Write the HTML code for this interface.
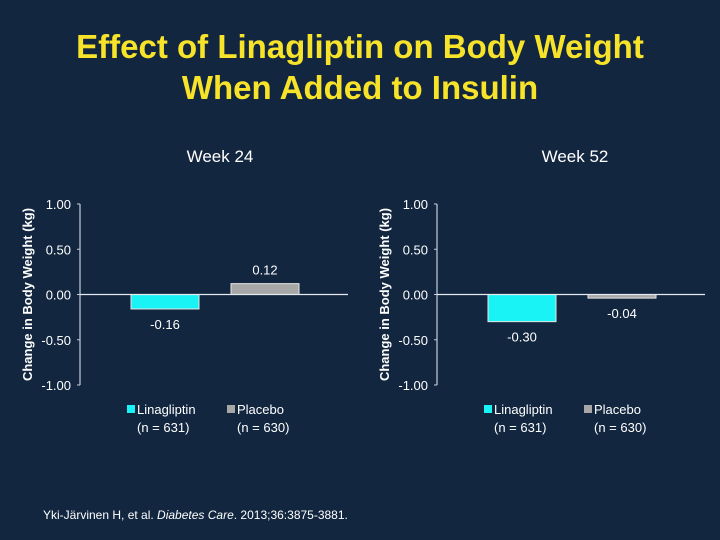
<!DOCTYPE html>
<html><head><meta charset="utf-8"><style>
body{margin:0;width:720px;height:540px;background:#12263f;overflow:hidden;font-family:"Liberation Sans",sans-serif}
</style></head><body>
<svg width="720" height="540" style="position:absolute;left:0;top:0">
<text x="360" y="58" text-anchor="middle" fill="#f7e32a" font-size="33" font-weight="bold">Effect of Linagliptin on Body Weight</text>
<text x="360" y="99" text-anchor="middle" fill="#f7e32a" font-size="33" font-weight="bold">When Added to Insulin</text>
<text x="220" y="162" text-anchor="middle" fill="#fff" font-size="17">Week 24</text>
<text x="575" y="162" text-anchor="middle" fill="#fff" font-size="17">Week 52</text>
<g id="charts"></g>
<text x="43" y="519" fill="#fff" font-size="12">Yki-Järvinen H, et al. <tspan font-style="italic">Diabetes Care</tspan>. 2013;36:3875-3881.</text>
</svg>
<script>
const panels=["Week 24","Week 52"];
const linaValues=[-0.16,-0.30];
const placeboValues=[0.12,-0.04];
const tickValues=[1,0.5,0,-0.5,-1];
const tickLabels=["1.00","0.50","0.00","-0.50","-1.00"];
const seriesNames=["Linagliptin","Placebo"];
const seriesN=["(n = 631)","(n = 630)"];
const NS="http://www.w3.org/2000/svg";
const g=document.getElementById('charts');
function mk(t,a,txt){const e=document.createElementNS(NS,t);for(const k in a)e.setAttribute(k,a[k]);if(txt!=null)e.textContent=txt;g.appendChild(e);return e;}
const y=v=>294.5-v*90.5;
panels.forEach((p,i)=>{
 const ox=i*357, ax=80+ox;
 let e=mk('line',{x1:ax,x2:ax,y1:y(1),y2:y(-1),stroke:'#c8cdd6','stroke-width':1.2});
 
 
 tickValues.forEach((v,j)=>{
  let t=mk('line',{x1:ax-3,x2:ax,y1:y(v),y2:y(v),stroke:'#c8cdd6'});
  
  
  let l=mk('text',{x:ax-9,y:y(v)+5,'text-anchor':'end',fill:'#fff','font-size':13},tickLabels[j]);
  
  
 });
 let yt=mk('text',{transform:`translate(${ax-48},${y(0)}) rotate(-90)`,'text-anchor':'middle',fill:'#fff','font-size':13,'font-weight':'bold'},'Change in Body Weight (kg)');
 
 
 const vals=[linaValues[i],placeboValues[i]], cols=['#19f3f5','#a7a7a7'];
 vals.forEach((v,k)=>{
  const bx=131+ox+k*100;
  const top=Math.min(y(v),y(0)),h=Math.abs(y(v)-y(0));
  let b=mk('rect',{x:bx,y:top,width:68,height:h,fill:cols[k],stroke:'#e6e6e6','stroke-width':1});
  
  
  const ly=v<0?y(v)+20:y(v)-9;
  let vl=mk('text',{x:bx+34,y:ly,'text-anchor':'middle',fill:'#fff','font-size':13},v.toFixed(2));
  
  
  let sw=mk('rect',{x:bx-4,y:405,width:8,height:8,fill:cols[k]});
  
  
  let lt=mk('text',{x:bx+6,y:414,fill:'#fff','font-size':13},seriesNames[k]);
  
  
  let ln=mk('text',{x:bx+6,y:432,fill:'#fff','font-size':13},seriesN[k]);
  
  
 });
 let z=mk('line',{x1:ax,x2:ax+268,y1:y(0),y2:y(0),stroke:'#e6e9ee','stroke-width':1.2});
 
 
});
</script>
</body></html>
